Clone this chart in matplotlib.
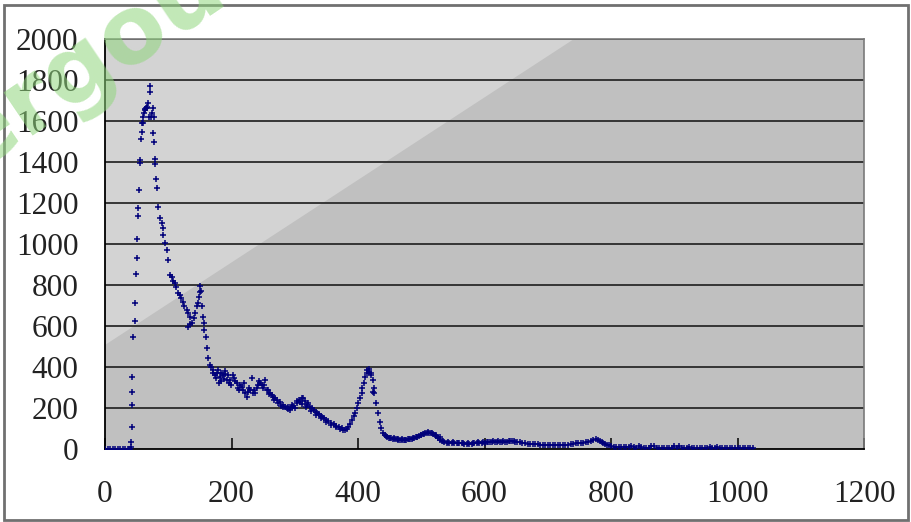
import matplotlib
matplotlib.use("Agg")
import matplotlib.pyplot as plt
from matplotlib.patches import Rectangle, Polygon

# ---------------- data ----------------
base_x = [0, 4, 8, 12, 16, 20, 24, 28, 32, 36, 40]
base_y = [0, 0, 0, 0, 0, 0, 0, 0, 0, 0, 0]

peak_x = [41, 41, 42, 42, 43, 43, 44, 47, 47, 49, 51, 51, 52, 52, 54, 55, 55, 57, 58, 58,
          60, 60, 62, 63, 64, 65, 66, 67, 68, 69, 71, 71, 73, 74, 76, 76, 77, 77, 79, 79,
          81, 82, 84, 87, 90, 92, 92, 95, 98, 100, 103, 106, 108, 111, 113, 115, 118, 120,
          123, 125, 129, 131, 134, 131, 135, 137, 140, 142, 145, 147, 148, 150, 150, 152,
          153, 155, 156, 157, 159, 161, 163]
peak_y = [10, 34, 107, 215, 278, 351, 546, 624, 712, 854, 932, 1024, 1137, 1176, 1263, 1395, 1410,
          1512, 1546, 1590, 1590, 1620, 1640, 1654, 1660, 1665, 1663, 1670, 1688, 1620, 1741, 1771,
          1620, 1640, 1663, 1541, 1620, 1498, 1415, 1390, 1317, 1273, 1180, 1127, 1100, 1078,
          1044, 1005, 971, 922, 849, 839, 820, 810, 790, 761, 751, 735, 717, 700, 678, 663, 644,
          595, 610, 615, 640, 663, 700, 712, 740, 766, 795, 770, 700, 644, 615, 580, 546, 493,
          444]

band_x = [166, 168, 171, 174, 177, 178, 180, 182, 184, 186, 188, 190, 193, 195, 197, 199, 202,
          205, 208, 211, 213, 216, 218, 221, 224, 226, 229, 232, 234, 237, 240, 242, 245, 248,
          250, 253, 256, 258, 261, 264, 266, 268, 272, 276, 279, 282, 284, 287, 290, 292, 295,
          298, 300, 303, 306, 308, 311, 313, 316, 319, 321, 324, 327, 330, 333, 335, 338, 341,
          343, 346, 350, 353, 358, 362, 366, 370, 374, 377, 379, 382, 384, 387, 390, 393, 395,
          398, 400, 403, 406, 407, 409, 411, 414, 415, 417, 418, 420, 421, 423, 423, 425, 426,
          429, 431, 434, 437]
band_y = [410, 400, 385, 361, 371, 385, 322, 351, 370, 361, 340, 380, 337, 360, 337, 310, 361,
          330, 322, 300, 310, 302, 290, 273, 254, 278, 290, 346, 273, 273, 300, 312, 322, 312,
          300, 337, 288, 290, 273, 263, 255, 249, 239, 229, 210, 205, 205, 200, 195, 190, 205,
          210, 200, 224, 240, 229, 249, 249, 235, 215, 224, 205, 200, 190, 180, 176, 170, 160,
          156, 150, 141, 135, 127, 120, 107, 105, 102, 95, 93, 100, 107, 120, 141, 160, 176,
          200, 224, 250, 273, 298, 322, 351, 371, 385, 376, 390, 361, 370, 337, 278, 300, 273,
          224, 176, 132, 102]

band2_x = [170, 175, 183, 189, 196, 204, 212, 219, 227, 235, 243, 251, 259, 267, 274, 281, 289,
           296, 304, 311, 318, 326, 334, 342, 349, 357, 365, 372]
band2_y = [370, 345, 330, 365, 320, 345, 290, 320, 300, 290, 330, 310, 270, 240, 225, 215, 205,
           215, 235, 220, 205, 185, 165, 150, 130, 115, 110, 100]

tail_x = [440, 443, 446, 449, 452, 455, 458, 461, 464, 467, 470, 473, 476, 479, 482, 485, 488,
          491, 494, 497, 500, 503, 506, 509, 512, 515, 518, 521, 524, 527, 530, 533, 536, 540,
          544, 548, 552, 556, 560, 564, 568, 572, 576, 580, 584, 588, 592, 596, 600, 604, 608,
          612, 616, 620, 624, 628, 632, 636, 640, 644, 648, 652, 656, 660, 664, 668, 672, 676,
          680, 684, 688, 692, 696, 700, 704, 708, 712, 716, 720, 724, 728, 732, 736, 740, 744,
          748, 752, 756, 760, 764, 768, 772, 776, 779, 782, 785, 788, 791, 794, 797, 800, 804,
          808, 812, 816, 820, 824, 828, 832, 836, 840, 844, 848, 852, 856, 860, 864, 868, 872,
          876, 880, 884, 888, 892, 896, 900, 904, 908, 912, 916, 920, 924, 928, 932, 936, 940,
          944, 948, 952, 956, 960, 964, 968, 972, 976, 980, 984, 988, 992, 996, 1000, 1004,
          1008, 1012, 1016, 1020, 1024]
tail_y = [80, 68, 60, 55, 52, 50, 48, 49, 46, 45, 44, 46, 45, 47, 49, 50, 53, 57, 60, 65, 70,
          72, 76, 80, 78, 76, 72, 67, 62, 56, 46, 38, 33, 30, 29, 28, 27, 28, 29, 27, 26, 25, 24,
          26, 27, 28, 29, 31, 31, 32, 34, 33, 34, 33, 34, 35, 34, 36, 37, 39, 36, 34, 32, 29, 27,
          26, 25, 24, 23, 22, 21, 20, 20, 21, 20, 19, 20, 19, 20, 21, 21, 20, 22, 24, 27, 29, 30,
          31, 34, 36, 38, 43, 48, 46, 41, 36, 30, 25, 21, 18, 14, 12, 10, 9, 9, 10, 9, 8, 14, 8,
          7, 15, 8, 7, 7, 6, 13, 14, 6, 6, 5, 6, 5, 5, 6, 14, 5, 13, 5, 5, 5, 12, 5, 4, 5, 4, 4,
          4, 4, 12, 4, 4, 11, 4, 4, 3, 3, 4, 3, 3, 3, 3, 3, 3, 3, 3, 3]

tail2_x = [445, 451, 457, 463, 469, 475, 481, 487, 493, 499, 505, 511, 517, 523, 529, 535, 542,
           550, 558, 566, 574, 582, 590, 598, 606, 614, 622, 630, 638, 646]
tail2_y = [62, 56, 52, 50, 48, 46, 50, 52, 58, 66, 74, 84, 76, 70, 58, 40, 34, 32, 30, 31, 29,
           30, 33, 35, 36, 38, 37, 38, 40, 41]

x_ticks = [0, 200, 400, 600, 800, 1000, 1200]
y_ticks = [0, 200, 400, 600, 800, 1000, 1200, 1400, 1600, 1800, 2000]

# ---------------- figure ----------------
W, H = 912, 522
fig = plt.figure(figsize=(W / 100, H / 100), dpi=100)
fig.patch.set_facecolor("white")

# outer frame
fig.patches.append(Rectangle((4 / W, 2 / H), 904 / W, 515 / H, transform=fig.transFigure,
                             fill=False, edgecolor="#707070", linewidth=2.0))

# watermark
fig.text(0.095, 0.875, "ergou", transform=fig.transFigure, rotation=34, fontsize=68,
         fontweight="bold", color="#8fd67c", alpha=0.55, ha="center", va="center",
         family="DejaVu Sans", zorder=10)

left, right, top, bottom = 105, 864, 39, 449
ax = fig.add_axes([left / W, 1 - bottom / H, (right - left) / W, (bottom - top) / H])
ax.set_facecolor("#c0c0c0")
ax.set_xlim(0, 1200)
ax.set_ylim(0, 2000)

# lighter diagonal highlight
ax.add_patch(Polygon([(0, 505), (0, 2000), (742, 2000)], closed=True, facecolor="#d3d3d3",
                     edgecolor="none", zorder=0.5))

for yv in y_ticks[1:]:
    ax.axhline(yv, color="#2a2a2a", linewidth=1.3, zorder=1)

xs = base_x + peak_x + band_x + band2_x + tail_x + tail2_x
ys = base_y + peak_y + band_y + band2_y + tail_y + tail2_y
ax.plot(xs, ys, linestyle="none", marker="+", markersize=4.0, markeredgewidth=1.1,
        color="#00007a", zorder=3)

ax.set_xticks(x_ticks)
ax.set_yticks(y_ticks)
ax.set_xticklabels([str(v) for v in x_ticks])
ax.set_yticklabels([str(v) for v in y_ticks])
for lab in ax.get_xticklabels() + ax.get_yticklabels():
    lab.set_family("Liberation Serif")
    lab.set_fontsize(22.5)
    lab.set_color("#222222")
ax.tick_params(axis="x", direction="in", length=8, width=1.1, color="black", pad=22)
ax.tick_params(axis="y", length=0, pad=19)

for s in ("left", "bottom"):
    ax.spines[s].set_color("black")
    ax.spines[s].set_linewidth(1.3)
for s in ("top", "right"):
    ax.spines[s].set_color("#7a7a7a")
    ax.spines[s].set_linewidth(1.2)

fig.savefig("out.png", dpi=100, facecolor="white")
